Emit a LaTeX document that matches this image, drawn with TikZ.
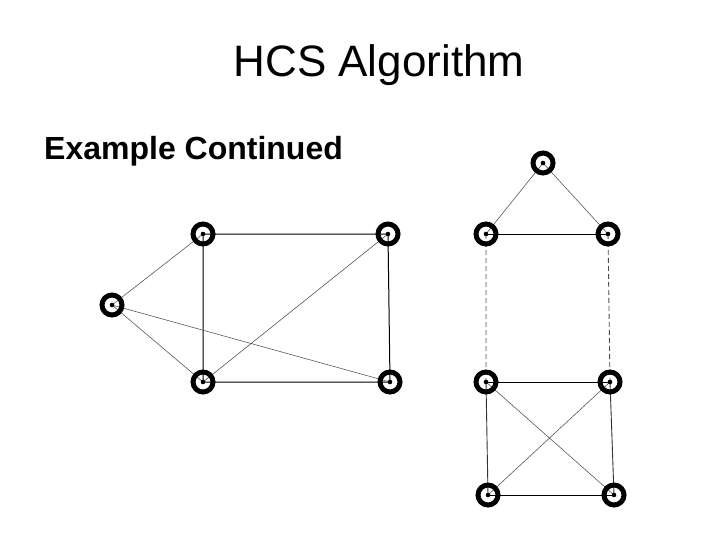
\documentclass[tikz,border=0pt]{standalone}
\usepackage{fontspec}
\setmainfont{Liberation Sans}
\usetikzlibrary{backgrounds}
\begin{document}
\begin{tikzpicture}[x=1pt,y=-1pt,
  vert/.style={circle,draw=black,line width=5pt,minimum size=20pt,inner sep=0pt,
    path picture={\fill[black] (path picture bounding box.center) circle (2.3pt);}},
  strong/.style={black,line width=1pt},
  weak/.style={black!65,line width=0.6pt},
  dashedge/.style={black!70,line width=0.9pt,dash pattern=on 5pt off 3pt}]
\useasboundingbox (0,0) rectangle (720,540);
\node[anchor=base,font=\fontsize{44}{48}\selectfont] (title) at (379,77) {HCS Algorithm};
\node[anchor=base west,inner sep=0pt,font=\bfseries\fontsize{32}{36}\selectfont] (sub) at (44,160) {Example Continued};
% left graph
\node[vert] (a) at (203,234) {};
\node[vert] (b) at (388,234) {};
\node[vert] (c) at (112,305) {};
\node[vert] (d) at (203,382) {};
\node[vert] (e) at (390,382) {};
% right graph
\node[vert] (t) at (543,163) {};
\node[vert] (l1) at (486,234) {};
\node[vert] (r1) at (608,234) {};
\node[vert] (l2) at (486,382) {};
\node[vert] (r2) at (610,382) {};
\node[vert] (l3) at (488,495) {};
\node[vert] (r3) at (614,495) {};
\begin{scope}[on background layer]
\draw[strong] (a.center) -- (b.center) (a.center) -- (d.center) (b.center) -- (e.center) (d.center) -- (e.center);
\draw[weak] (c.center) -- (a.center) (c.center) -- (d.center) (c.center) -- (e.center) (d.center) -- (b.center);
\draw[weak] (t.center) -- (l1.center) (t.center) -- (r1.center) (l2.center) -- (r3.center) (r2.center) -- (l3.center);
\draw[strong] (l1.center) -- (r1.center) (l2.center) -- (r2.center) (l3.center) -- (r3.center);
\draw[black!80,line width=0.9pt] (l2.center) -- (l3.center) (r2.center) -- (r3.center);
\draw[dashedge] (l1.center) -- (l2.center) (r1.center) -- (r2.center);
\end{scope}
\end{tikzpicture}
\end{document}
